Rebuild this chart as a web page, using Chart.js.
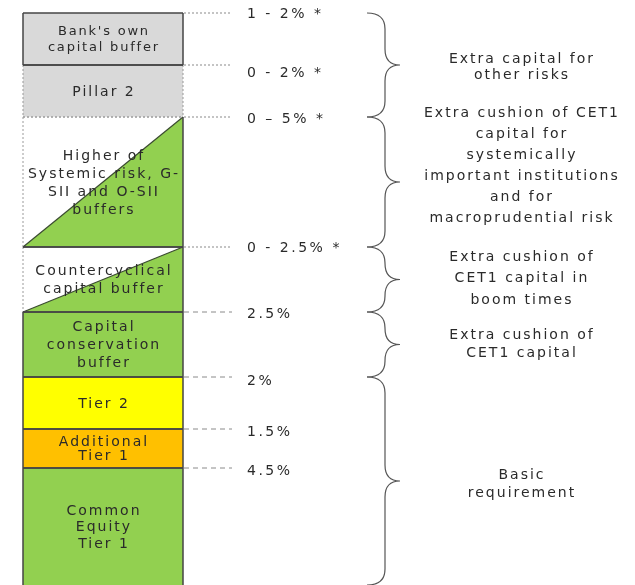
<!DOCTYPE html>
<html><head><meta charset="utf-8">
<script src="https://cdn.jsdelivr.net/npm/chart.js@4/dist/chart.umd.min.js"></script>
<style>html,body{margin:0;padding:0;background:#fff;overflow:hidden}#wrap{width:635px;height:585px}</style>
</head><body><div id="wrap"><canvas id="c" width="635" height="585"></canvas></div>
<script>
// ---- DATA (layers from bottom to top) ----
const categories = ['Capital requirements'];
const layerNames = [
  ['Common', 'Equity', 'Tier 1'],
  ['Additional', 'Tier 1'],
  ['Tier 2'],
  ['Capital', 'conservation', 'buffer'],
  ['Countercyclical', 'capital buffer'],
  ['Higher of', 'Systemic risk, G-', 'SII and O-SII', 'buffers'],
  ['Pillar 2'],
  ["Bank's own", 'capital buffer']
];
const layerValues = [4.5, 1.5, 2, 2.5, 2.5, 5, 2, 2];
const rateLabels = ['4.5%', '1.5%', '2%', '2.5%', '0 - 2.5% *', '0 \u2013 5% *', '0 - 2% *', '1 - 2% *'];
const groupLayers = [[0, 1, 2], [3], [4], [5], [6, 7]];
const groupTexts = [
  ['Basic', 'requirement'],
  ['Extra cushion of', 'CET1 capital'],
  ['Extra cushion of', 'CET1 capital in', 'boom times'],
  ['Extra cushion of CET1', 'capital for', 'systemically', 'important institutions', 'and for', 'macroprudential risk'],
  ['Extra capital for', 'other risks']
];

// ---- STYLE / LAYOUT ----
const GREEN = '#92D050';
const fills = [GREEN, '#FFC000', '#FFFF00', GREEN, '#FFFFFF', '#FFFFFF', '#D9D9D9', '#D9D9D9'];
const triangle = [false, false, false, false, true, true, false, false];
const edges = [
  {l:'s', r:'s', t:'s', b:''},
  {l:'s', r:'s', t:'s', b:'s'},
  {l:'s', r:'s', t:'s', b:'s'},
  {l:'s', r:'s', t:'s', b:'s'},
  {l:'d', r:'s', t:'s', b:'s'},
  {l:'d', r:'s', t:'d', b:'s'},
  {l:'d', r:'d', t:'s', b:'d'},
  {l:'s', r:'s', t:'s', b:'s'}
];
const layerFont = [14, 14, 14, 14, 14, 14, 14, 13];
const layerLineH = [16.5, 14, 16, 18, 18, 18, 16, 16];
const rateDy = [3.5, 3.5, 4, 2, 1, 2, 8, 1];
const groupLineH = [18, 18, 21.5, 21, 16.5];
const groupDy = [3, 0, -1, -16, 2.5];
const FONT = '"DejaVu Sans", Verdana, sans-serif';
const TEXT = '#2a2a2a';

function spacedText(ctx, str, x, y, sp) {
  ctx.letterSpacing = sp + 'px';
  ctx.fillText(str, x + sp / 2, y);
}

const diagram = {
  id: 'diagram',
  afterDatasetsDraw(chart) {
    const ctx = chart.ctx;
    const boxes = layerValues.map((v, i) => {
      const el = chart.getDatasetMeta(i).data[0];
      const p = el.getProps(['x', 'y', 'base', 'width'], true);
      return {left: p.x - p.width / 2, right: p.x + p.width / 2, top: p.y, bottom: p.base, cx: p.x};
    });
    ctx.save();
    // triangles
    boxes.forEach((b, i) => {
      if (!triangle[i]) return;
      ctx.beginPath();
      ctx.moveTo(b.left, b.bottom);
      ctx.lineTo(b.right, b.top);
      ctx.lineTo(b.right, b.bottom);
      ctx.closePath();
      ctx.fillStyle = GREEN;
      ctx.fill();
      ctx.beginPath();
      ctx.moveTo(b.left, b.bottom);
      ctx.lineTo(b.right, b.top);
      ctx.strokeStyle = '#3a4a30';
      ctx.lineWidth = 1.2;
      ctx.stroke();
    });
    // edges: dashed first, then solid
    const line = (x1, y1, x2, y2) => { ctx.beginPath(); ctx.moveTo(x1, y1); ctx.lineTo(x2, y2); ctx.stroke(); };
    ['d', 's'].forEach(kind => {
      if (kind === 'd') { ctx.setLineDash([2, 2]); ctx.strokeStyle = '#9a9a9a'; ctx.lineWidth = 1; }
      else { ctx.setLineDash([]); ctx.strokeStyle = '#444'; ctx.lineWidth = 1.5; }
      boxes.forEach((b, i) => {
        const e = edges[i];
        if (e.l === kind) line(b.left, b.top, b.left, b.bottom);
        if (e.r === kind) line(b.right, b.top, b.right, b.bottom);
        if (e.t === kind) line(b.left, b.top, b.right, b.top);
        if (e.b === kind) line(b.left, b.bottom, b.right, b.bottom);
      });
    });
    ctx.setLineDash([]);
    // labels inside layers
    ctx.fillStyle = TEXT;
    ctx.textAlign = 'center';
    ctx.textBaseline = 'middle';
    boxes.forEach((b, i) => {
      const lines = layerNames[i];
      const lh = layerLineH[i];
      ctx.font = layerFont[i] + 'px ' + FONT;
      const mid = (b.top + b.bottom) / 2 + 1;
      lines.forEach((t, k) => {
        spacedText(ctx, t, b.cx, mid + (k - (lines.length - 1) / 2) * lh, layerFont[i] === 13 ? 1.8 : 2);
      });
    });
    // leader lines and rate labels
    const right = boxes[0].right;
    boxes.forEach((b, i) => {
      ctx.setLineDash(i >= 4 ? [2, 2] : [5, 4]);
      ctx.strokeStyle = '#8a8a8a';
      ctx.lineWidth = 1;
      line(right + 1, b.top, right + 49, b.top);
      ctx.setLineDash([]);
      ctx.font = '14px ' + FONT;
      ctx.textAlign = 'left';
      ctx.fillStyle = TEXT;
      ctx.letterSpacing = '2.5px';
      ctx.fillText(rateLabels[i], right + 64, b.top + rateDy[i]);
    });
    // braces and group texts
    const x0 = 367, x1 = 385, x2 = 400;
    groupLayers.forEach((g, gi) => {
      const y1 = boxes[g[g.length - 1]].top;
      const y2 = boxes[g[0]].bottom;
      const ym = (y1 + y2) / 2;
      const r = Math.min(16, (y2 - y1) / 4);
      ctx.beginPath();
      ctx.moveTo(x0, y1);
      ctx.quadraticCurveTo(x1, y1, x1, y1 + r);
      ctx.lineTo(x1, ym - r);
      ctx.quadraticCurveTo(x1, ym, x2, ym);
      ctx.quadraticCurveTo(x1, ym, x1, ym + r);
      ctx.lineTo(x1, y2 - r);
      ctx.quadraticCurveTo(x1, y2, x0, y2);
      ctx.strokeStyle = '#555';
      ctx.lineWidth = 1.2;
      ctx.stroke();
      const lines = groupTexts[gi];
      const lh = groupLineH[gi];
      ctx.font = '14px ' + FONT;
      ctx.textAlign = 'center';
      ctx.fillStyle = TEXT;
      lines.forEach((t, k) => {
        spacedText(ctx, t, 521, ym + groupDy[gi] + (k - (lines.length - 1) / 2) * lh, 2);
      });
    });
    ctx.restore();
  }
};

const total = layerValues.reduce((a, b) => a + b, 0);
new Chart(document.getElementById('c'), {
  type: 'bar',
  data: {
    labels: categories,
    datasets: layerValues.map((v, i) => ({
      label: layerNames[i].join(' '),
      data: [v],
      backgroundColor: fills[i],
      borderWidth: 0,
      barPercentage: 1,
      categoryPercentage: 1
    }))
  },
  options: {
    responsive: false,
    devicePixelRatio: 1,
    animation: false,
    layout: {padding: {left: 23, right: 452, top: 13, bottom: 0}},
    scales: {
      x: {stacked: true, display: false},
      y: {stacked: true, display: false, min: 0, max: total}
    },
    plugins: {legend: {display: false}, tooltip: {enabled: false}}
  },
  plugins: [diagram]
});
</script>
</body></html>
